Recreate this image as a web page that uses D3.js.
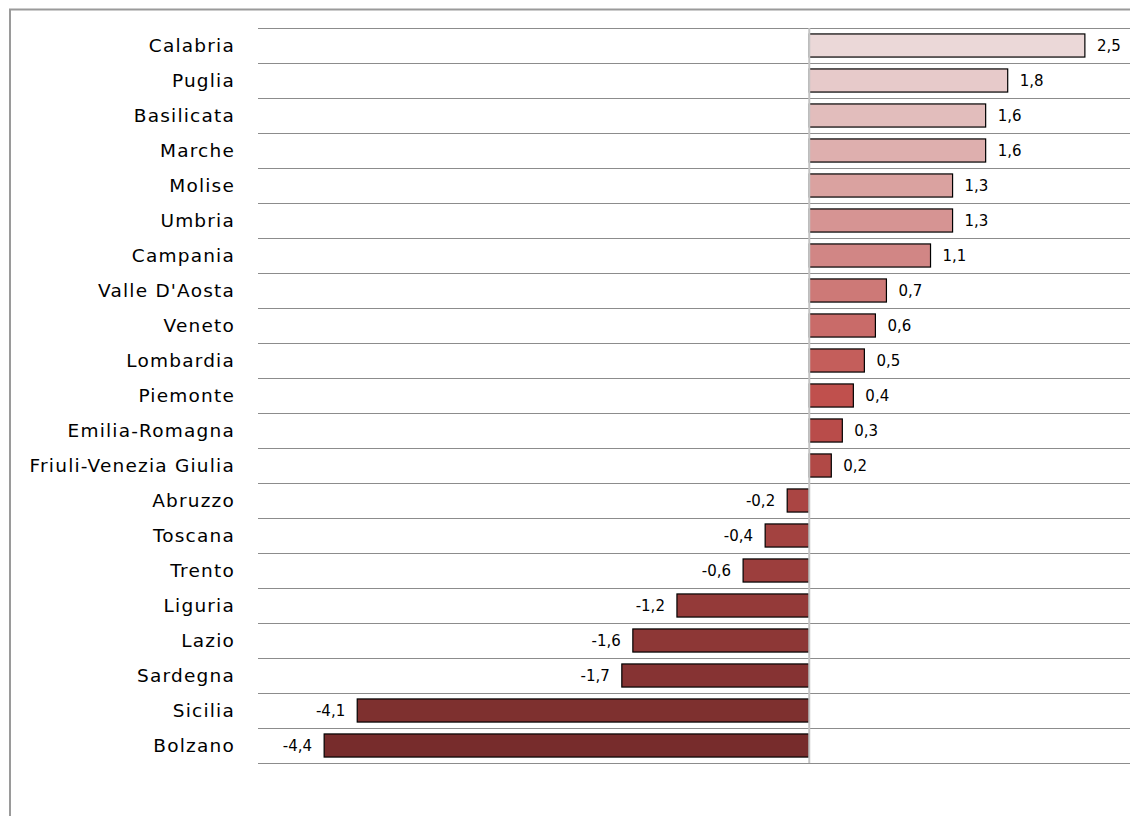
<!DOCTYPE html>
<html>
<head>
<meta charset="utf-8">
<script src="https://cdn.jsdelivr.net/npm/d3@7"></script>
<style>
  body { margin: 0; background: #fff; }
  svg { display: block; }
</style>
</head>
<body>
<div id="chart"></div>
<script>
// regions, top to bottom
const regions = ["Calabria", "Puglia", "Basilicata", "Marche", "Molise", "Umbria", "Campania",
  "Valle D'Aosta", "Veneto", "Lombardia", "Piemonte", "Emilia-Romagna", "Friuli-Venezia Giulia",
  "Abruzzo", "Toscana", "Trento", "Liguria", "Lazio", "Sardegna", "Sicilia", "Bolzano"];
const values = [2.5, 1.8, 1.6, 1.6, 1.3, 1.3, 1.1, 0.7, 0.6, 0.5, 0.4, 0.3, 0.2,
  -0.2, -0.4, -0.6, -1.2, -1.6, -1.7, -4.1, -4.4];
const xDomain = [-5, 3];

const W = 1130, H = 816;
const margin = {top: 28, left: 258, right: -10, bottom: 53};

const svg = d3.select("#chart").append("svg")
  .attr("width", W)
  .attr("height", H);

// outer frame (runs off the picture on the right and bottom)
svg.append("path")
  .attr("d", "M10,830 L10,9.5 L1140,9.5")
  .attr("fill", "none")
  .attr("stroke", "#9a9a9a")
  .attr("stroke-width", 2);

const x = d3.scaleLinear()
  .domain(xDomain)
  .range([margin.left, W - margin.right]);

const y = d3.scaleBand()
  .domain(regions)
  .range([margin.top, H - margin.bottom])
  .paddingInner(0.34)
  .paddingOuter(0.17);

const step = y.step();

// horizontal gridlines between rows
const gridY = d3.range(regions.length + 1).map(i => margin.top + i * step);
svg.append("g")
  .selectAll("line")
  .data(gridY)
  .enter()
  .append("line")
    .attr("x1", margin.left)
    .attr("x2", W)
    .attr("y1", d => Math.round(d) + 0.5)
    .attr("y2", d => Math.round(d) + 0.5)
    .attr("stroke", "#8c8c8c")
    .attr("stroke-width", 1);

// bar colours: light pink at the top, deep red at the bottom
const colour = d3.scaleLinear()
  .domain([0, 10, regions.length - 1])
  .range(["#ebd8d8", "#c0504d", "#772c2c"]);

svg.append("g")
  .selectAll("rect")
  .data(regions)
  .enter()
  .append("rect")
    .attr("x", (d, i) => x(Math.min(0, values[i])))
    .attr("y", d => y(d))
    .attr("width", (d, i) => Math.abs(x(values[i]) - x(0)))
    .attr("height", y.bandwidth())
    .attr("fill", (d, i) => colour(i))
    .attr("stroke", "#000")
    .attr("stroke-width", 1.2);

// zero axis
svg.append("line")
  .attr("x1", x(0))
  .attr("x2", x(0))
  .attr("y1", margin.top)
  .attr("y2", gridY[gridY.length - 1])
  .attr("stroke", "#c4c4c4")
  .attr("stroke-width", 2);

// category labels
svg.append("g")
  .selectAll("text")
  .data(regions)
  .enter()
  .append("text")
    .attr("x", 235)
    .attr("y", d => y(d) + y.bandwidth() / 2)
    .attr("dy", "0.36em")
    .attr("text-anchor", "end")
    .style("font-family", "'Comic Sans MS', 'DejaVu Sans', sans-serif")
    .style("font-size", "18.5px")
    .style("letter-spacing", "1.2px")
    .style("fill", "#000")
    .text(d => d);

// value labels, decimal comma and plain hyphen
const fmt = v => String(v).replace(".", ",");
svg.append("g")
  .selectAll("text")
  .data(regions)
  .enter()
  .append("text")
    .attr("x", (d, i) => values[i] >= 0 ? x(values[i]) + 12 : x(values[i]) - 12)
    .attr("y", d => y(d) + y.bandwidth() / 2)
    .attr("dy", "0.38em")
    .attr("text-anchor", (d, i) => values[i] >= 0 ? "start" : "end")
    .style("font-family", "'DejaVu Sans', Verdana, sans-serif")
    .style("font-size", "15px")
    .style("fill", "#000")
    .text((d, i) => fmt(values[i]));
</script>
</body>
</html>
